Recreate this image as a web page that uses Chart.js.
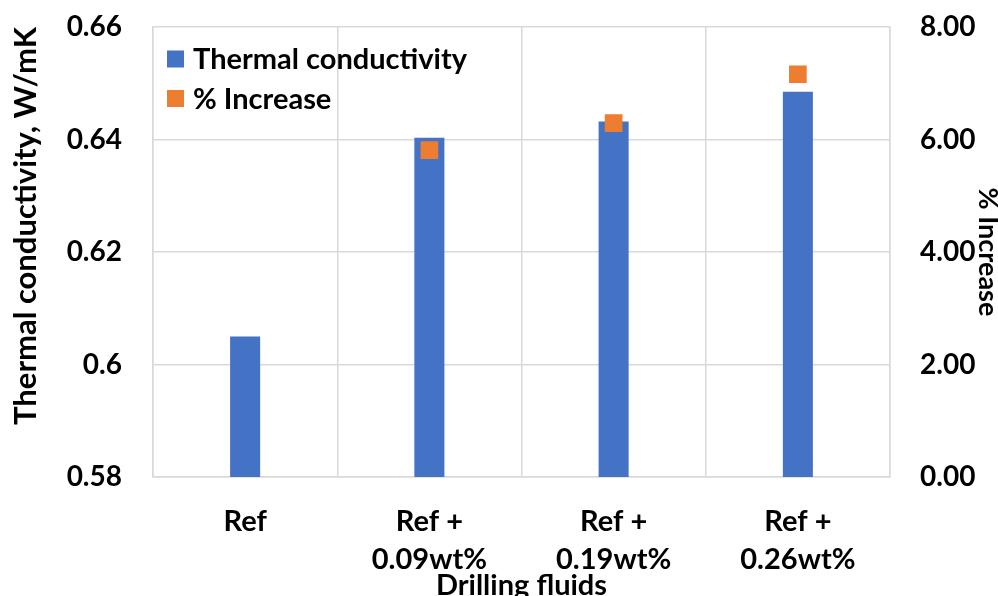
<!DOCTYPE html>
<html><head><meta charset="utf-8">
<script src="https://cdn.jsdelivr.net/npm/chart.js@4"></script>
<style>html,body{margin:0;padding:0;background:#fff}#wrap{width:998px;height:596px}</style>
</head><body><div id="wrap"><canvas id="c"></canvas></div>
<script>
const categories = [['Ref'], ['Ref +', '0.09wt%'], ['Ref +', '0.19wt%'], ['Ref +', '0.26wt%']];
const conductivity = [0.605, 0.6403, 0.6432, 0.6485];
const increase = [null, 5.81, 6.29, 7.16];
const leftTitle = 'Thermal conductivity, W/mK';
const rightTitle = '% Increase';
const xTitle = 'Drilling fluids';

const F = "Lato, 'Open Sans', sans-serif";

const innerLegend = {
  id: 'innerLegend',
  afterDraw(chart) {
    const ctx = chart.ctx;
    const a = chart.chartArea;
    const rows = [32, 71.5];
    ctx.save();
    ctx.font = 'bold 29px ' + F;
    ctx.textBaseline = 'middle';
    ctx.textAlign = 'left';
    chart.data.datasets.forEach((ds, i) => {
      const cy = a.top + rows[i];
      ctx.fillStyle = ds.backgroundColor;
      ctx.fillRect(a.left + 14, cy - 8.5, 17, 17);
      ctx.fillStyle = '#000';
      ctx.fillText(ds.label, a.left + 40, cy + 1);
    });
    ctx.restore();
  }
};

new Chart(document.getElementById('c'), {
  data: {
    labels: categories,
    datasets: [
      { type: 'bar', label: 'Thermal conductivity', data: conductivity, backgroundColor: '#4472C4', yAxisID: 'y', barPercentage: 0.815, categoryPercentage: 0.2, order: 2 },
      { type: 'line', label: '% Increase', data: increase, yAxisID: 'y1', showLine: false, pointStyle: 'rect', pointRadius: 12.5, pointHoverRadius: 12.5, backgroundColor: '#ED7D31', borderColor: '#ED7D31', borderWidth: 0, order: 1 }
    ]
  },
  plugins: [innerLegend],
  options: {
    responsive: true, maintainAspectRatio: false, animation: false,
    layout: { padding: { top: 27, left: 0, right: 0, bottom: 0 } },
    plugins: { tooltip: { enabled: false }, legend: { display: false } },
    scales: {
      x: {
        offset: true,
        grid: { offset: true, color: '#D9D9D9', lineWidth: 1.5, drawTicks: false },
        border: { color: '#D9D9D9', width: 1.5 },
        ticks: { color: '#000', font: { family: F, size: 29, weight: 'bold', lineHeight: 1.33 }, padding: 25, maxRotation: 0, autoSkip: false },
        title: { display: true, text: xTitle, color: '#000', font: { family: F, size: 29, weight: 'bold' }, padding: { top: 0, bottom: -7 } },
        afterFit: s => { s.height = 119; }
      },
      y: {
        position: 'left', min: 0.58, max: 0.66,
        ticks: { stepSize: 0.02, color: '#000', font: { family: F, size: 28, weight: 'bold' }, padding: 31, callback: v => String(+v.toFixed(2)) },
        grid: { color: '#D9D9D9', lineWidth: 1.5, drawTicks: false },
        border: { color: '#D9D9D9', width: 1.5 },
        title: { display: true, text: leftTitle, align: 'end', color: '#000', font: { family: F, size: 31, weight: 'bold' }, padding: { top: 7, bottom: 0 } },
        afterFit: s => { s.width = 153; s.paddingTop = 0; s.paddingBottom = 0; }
      },
      y1: {
        position: 'right', min: 0, max: 8,
        ticks: { stepSize: 2, color: '#000', font: { family: F, size: 28, weight: 'bold' }, padding: 30, callback: v => v.toFixed(2) },
        grid: { drawOnChartArea: false, drawTicks: false },
        border: { color: '#D9D9D9', width: 1.5 },
        title: { display: true, text: rightTitle, color: '#000', font: { family: F, size: 27, weight: 'bold' }, padding: { top: -6, bottom: 0 } },
        afterFit: s => { s.width = 108; s.paddingTop = 0; s.paddingBottom = 0; }
      }
    }
  }
});
</script></body></html>
